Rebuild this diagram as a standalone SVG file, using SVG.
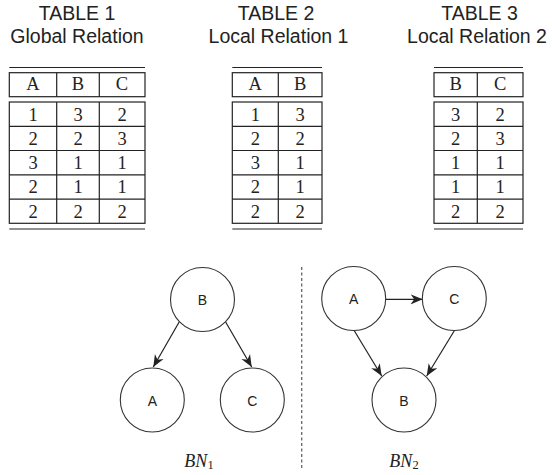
<svg xmlns="http://www.w3.org/2000/svg" width="552" height="475" viewBox="0 0 552 475">
<defs>
<style>
.title{font-family:"Liberation Sans",Arial,sans-serif;font-size:19.5px;fill:#222;text-anchor:middle}
.rule{stroke:#222;stroke-width:1.2;fill:none}
.cell{font-family:"Liberation Serif","Times New Roman",serif;font-size:18.5px;fill:#222;text-anchor:middle}
.node circle{fill:#fff;stroke:#333;stroke-width:1.1}
.node text{font-family:"Liberation Sans",Arial,sans-serif;font-size:14px;fill:#222;text-anchor:middle}
.edge{stroke:#222;stroke-width:1.2;fill:none;marker-end:url(#arr)}
.bn{font-family:"Liberation Serif","Times New Roman",serif;font-size:18px;fill:#222;text-anchor:middle}
</style>
<marker id="arr" markerUnits="userSpaceOnUse" markerWidth="13" markerHeight="11" refX="12" refY="5.5" orient="auto" viewBox="0 0 13 11">
<path d="M0,0.5 L12,5.5 L0,10.5 L3.5,5.5 Z" fill="#222"/>
</marker>
</defs>

<g id="table1">
<text class="title" x="77" y="20">TABLE 1</text>
<text class="title" x="77" y="43.3">Global Relation</text>
<line class="rule" x1="9.3" y1="67.5" x2="145" y2="67.5"/>
<rect class="rule" x="9.3" y="72.7" width="135.7" height="24"/>
<line class="rule" x1="56.7" y1="72.7" x2="56.7" y2="96.7"/>
<line class="rule" x1="99.3" y1="72.7" x2="99.3" y2="96.7"/>
<rect class="rule" x="9.3" y="102" width="135.7" height="121.3"/>
<line class="rule" x1="9.3" y1="126.3" x2="145" y2="126.3"/>
<line class="rule" x1="9.3" y1="150.5" x2="145" y2="150.5"/>
<line class="rule" x1="9.3" y1="174.8" x2="145" y2="174.8"/>
<line class="rule" x1="9.3" y1="199.1" x2="145" y2="199.1"/>
<line class="rule" x1="56.7" y1="102" x2="56.7" y2="223.3"/>
<line class="rule" x1="99.3" y1="102" x2="99.3" y2="223.3"/>
<line class="rule" x1="9.3" y1="229" x2="145" y2="229"/>
<text class="cell" x="33" y="90">A</text><text class="cell" x="78" y="90">B</text><text class="cell" x="122" y="90">C</text>
<text class="cell" x="33" y="120.6">1</text><text class="cell" x="78" y="120.6">3</text><text class="cell" x="122" y="120.6">2</text>
<text class="cell" x="33" y="144.9">2</text><text class="cell" x="78" y="144.9">2</text><text class="cell" x="122" y="144.9">3</text>
<text class="cell" x="33" y="169.2">3</text><text class="cell" x="78" y="169.2">1</text><text class="cell" x="122" y="169.2">1</text>
<text class="cell" x="33" y="193.4">2</text><text class="cell" x="78" y="193.4">1</text><text class="cell" x="122" y="193.4">1</text>
<text class="cell" x="33" y="217.7">2</text><text class="cell" x="78" y="217.7">2</text><text class="cell" x="122" y="217.7">2</text>
</g>

<g id="table2">
<text class="title" x="276" y="20">TABLE 2</text>
<text class="title" x="278.5" y="43.3">Local Relation 1</text>
<line class="rule" x1="232.3" y1="67.5" x2="322" y2="67.5"/>
<rect class="rule" x="232.3" y="72.7" width="89.7" height="24"/>
<line class="rule" x1="278.3" y1="72.7" x2="278.3" y2="96.7"/>
<rect class="rule" x="232.3" y="102" width="89.7" height="121.3"/>
<line class="rule" x1="232.3" y1="126.3" x2="322" y2="126.3"/>
<line class="rule" x1="232.3" y1="150.5" x2="322" y2="150.5"/>
<line class="rule" x1="232.3" y1="174.8" x2="322" y2="174.8"/>
<line class="rule" x1="232.3" y1="199.1" x2="322" y2="199.1"/>
<line class="rule" x1="278.3" y1="102" x2="278.3" y2="223.3"/>
<line class="rule" x1="232.3" y1="229" x2="322" y2="229"/>
<text class="cell" x="255.3" y="90">A</text><text class="cell" x="300.2" y="90">B</text>
<text class="cell" x="255.3" y="120.6">1</text><text class="cell" x="300.2" y="120.6">3</text>
<text class="cell" x="255.3" y="144.9">2</text><text class="cell" x="300.2" y="144.9">2</text>
<text class="cell" x="255.3" y="169.2">3</text><text class="cell" x="300.2" y="169.2">1</text>
<text class="cell" x="255.3" y="193.4">2</text><text class="cell" x="300.2" y="193.4">1</text>
<text class="cell" x="255.3" y="217.7">2</text><text class="cell" x="300.2" y="217.7">2</text>
</g>

<g id="table3">
<text class="title" x="479.5" y="20">TABLE 3</text>
<text class="title" x="477" y="43.3">Local Relation 2</text>
<line class="rule" x1="434" y1="67.5" x2="523" y2="67.5"/>
<rect class="rule" x="434" y="72.7" width="89" height="24"/>
<line class="rule" x1="477.3" y1="72.7" x2="477.3" y2="96.7"/>
<rect class="rule" x="434" y="102" width="89" height="121.3"/>
<line class="rule" x1="434" y1="126.3" x2="523" y2="126.3"/>
<line class="rule" x1="434" y1="150.5" x2="523" y2="150.5"/>
<line class="rule" x1="434" y1="174.8" x2="523" y2="174.8"/>
<line class="rule" x1="434" y1="199.1" x2="523" y2="199.1"/>
<line class="rule" x1="477.3" y1="102" x2="477.3" y2="223.3"/>
<line class="rule" x1="434" y1="229" x2="523" y2="229"/>
<text class="cell" x="455.7" y="90">B</text><text class="cell" x="500.2" y="90">C</text>
<text class="cell" x="455.7" y="120.6">3</text><text class="cell" x="500.2" y="120.6">2</text>
<text class="cell" x="455.7" y="144.9">2</text><text class="cell" x="500.2" y="144.9">3</text>
<text class="cell" x="455.7" y="169.2">1</text><text class="cell" x="500.2" y="169.2">1</text>
<text class="cell" x="455.7" y="193.4">1</text><text class="cell" x="500.2" y="193.4">1</text>
<text class="cell" x="455.7" y="217.7">2</text><text class="cell" x="500.2" y="217.7">2</text>
</g>

<line id="divider" x1="301.7" y1="267" x2="301.7" y2="468" stroke="#666" stroke-width="1.3" stroke-dasharray="3,2.5"/>

<g id="connectors">
<line class="edge" x1="179.3" y1="321.7" x2="153.3" y2="367"/>
<line class="edge" x1="225.5" y1="321.7" x2="251.7" y2="367"/>
<line class="edge" x1="385.7" y1="299.3" x2="422.7" y2="299.3"/>
<line class="edge" x1="354.3" y1="330.7" x2="381.7" y2="376"/>
<line class="edge" x1="454.3" y1="330.7" x2="426.7" y2="376"/>
</g>

<g id="bn1-B" class="node"><circle cx="202.5" cy="299.5" r="32"/><text x="202.5" y="305">B</text></g>
<g id="bn1-A" class="node"><circle cx="152.3" cy="400" r="32"/><text x="152.3" y="405.5">A</text></g>
<g id="bn1-C" class="node"><circle cx="252.3" cy="400" r="32"/><text x="252.3" y="405.5">C</text></g>

<g id="bn2-A" class="node"><circle cx="353.7" cy="298.5" r="32"/><text x="353.7" y="304">A</text></g>
<g id="bn2-C" class="node"><circle cx="454.3" cy="298.5" r="32"/><text x="454.3" y="304">C</text></g>
<g id="bn2-B" class="node"><circle cx="404" cy="400" r="32"/><text x="404" y="405.5">B</text></g>

<text class="bn" x="199" y="467"><tspan font-style="italic">BN</tspan><tspan font-size="12.5" dy="2">1</tspan></text>
<text class="bn" x="404" y="467"><tspan font-style="italic">BN</tspan><tspan font-size="12.5" dy="2">2</tspan></text>
</svg>
